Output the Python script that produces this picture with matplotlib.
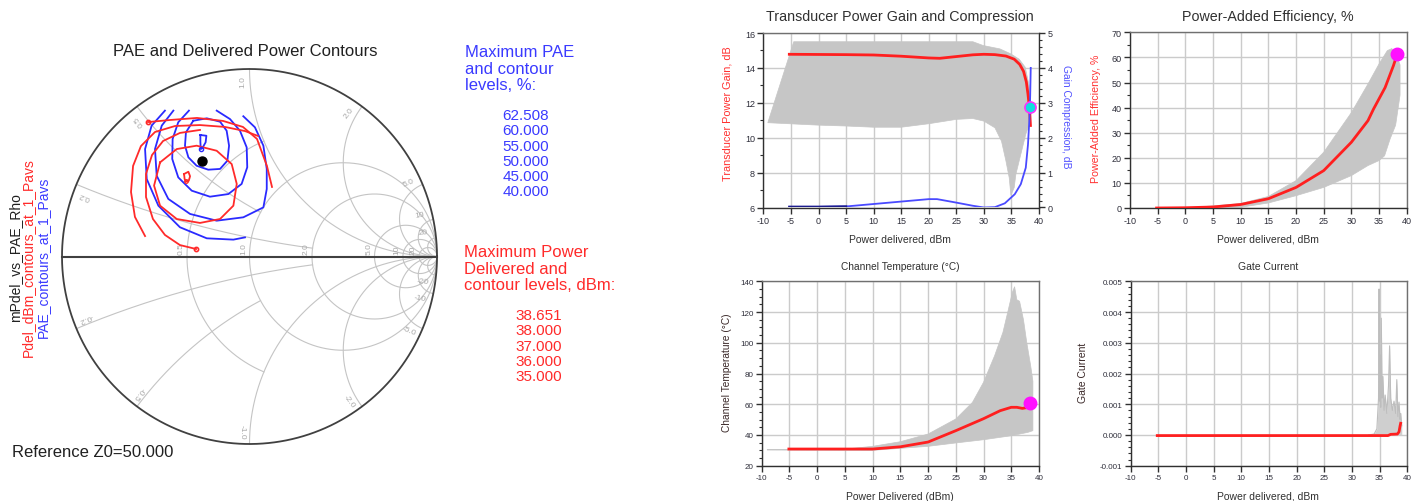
import numpy as np
import matplotlib
matplotlib.use("Agg")
import matplotlib.pyplot as plt
from matplotlib.ticker import MultipleLocator, FormatStrFormatter

plt.rcParams['font.family'] = ['Liberation Sans', 'DejaVu Sans']
plt.rcParams['axes.unicode_minus'] = False

# ---------------- DATA ----------------
# Smith chart contours (reflection coefficient, re/im)
pae_levels = [62.508, 60.0, 55.0, 50.0, 45.0, 40.0]
pdel_levels = [38.651, 38.0, 37.0, 36.0, 35.0]

pae_c60 = [(-0.262, 0.648), (-0.230, 0.644), (-0.234, 0.609), (-0.252, 0.577),
           (-0.260, 0.573), (-0.262, 0.612), (-0.262, 0.648)]
pae_c55 = [(-0.300, 0.724), (-0.228, 0.737), (-0.157, 0.719), (-0.122, 0.671),
           (-0.109, 0.591), (-0.118, 0.511), (-0.157, 0.467), (-0.220, 0.463),
           (-0.282, 0.484), (-0.326, 0.529), (-0.344, 0.591), (-0.339, 0.662),
           (-0.300, 0.724)]
pae_c50 = [(-0.323, 0.778), (-0.380, 0.716), (-0.410, 0.627), (-0.412, 0.520),
           (-0.380, 0.422), (-0.308, 0.351), (-0.211, 0.319), (-0.113, 0.333),
           (-0.042, 0.387), (-0.012, 0.476), (-0.015, 0.582), (-0.051, 0.671),
           (-0.104, 0.733), (-0.175, 0.778)]
pae_c45 = [(-0.406, 0.778), (-0.468, 0.698), (-0.504, 0.573), (-0.495, 0.431),
           (-0.433, 0.307), (-0.317, 0.227), (-0.175, 0.191), (-0.033, 0.209),
           (0.074, 0.262), (0.092, 0.360), (0.092, 0.467), (0.074, 0.591),
           (0.029, 0.689), (-0.033, 0.748)]
pae_c40 = [(-0.451, 0.778), (-0.522, 0.698), (-0.557, 0.573), (-0.548, 0.413),
           (-0.486, 0.271), (-0.371, 0.156), (-0.228, 0.097), (-0.086, 0.090),
           (-0.024, 0.102)]

pdel_c38651 = [(-0.349, 0.440), (-0.326, 0.452), (-0.317, 0.428), (-0.324, 0.404),
               (-0.339, 0.401), (-0.346, 0.413), (-0.349, 0.440)]
pdel_c38 = [(-0.477, 0.502), (-0.388, 0.573), (-0.282, 0.591), (-0.175, 0.564),
            (-0.095, 0.493), (-0.068, 0.387), (-0.086, 0.271), (-0.157, 0.200),
            (-0.264, 0.179), (-0.388, 0.200), (-0.477, 0.271), (-0.509, 0.378),
            (-0.477, 0.502)]
pdel_c37 = [(-0.285, 0.040), (-0.371, 0.061), (-0.451, 0.115), (-0.515, 0.200),
            (-0.552, 0.317), (-0.552, 0.440), (-0.520, 0.541), (-0.461, 0.616),
            (-0.371, 0.659), (-0.264, 0.675)]
pdel_c36 = [(-0.557, 0.109), (-0.611, 0.211), (-0.632, 0.344), (-0.621, 0.483),
            (-0.579, 0.589), (-0.504, 0.664), (-0.397, 0.696), (-0.264, 0.701),
            (-0.131, 0.691), (-0.024, 0.669), (0.045, 0.643)]
pdel_c35 = [(-0.541, 0.717), (-0.424, 0.728), (-0.280, 0.739), (-0.141, 0.723),
            (-0.035, 0.691), (0.040, 0.627), (0.093, 0.483), (0.120, 0.371)]

rho_point = (-0.253, 0.509)
pae_max_point = (-0.260, 0.573)
pdel_max_point = (-0.339, 0.401)
pdel_end_markers = [(-0.541, 0.717), (-0.285, 0.040)]

# Smith grid values
r_grid_vals = [0.5, 1, 2, 5, 10, 20]
x_grid_vals = [0.2, 0.5, 1, 2, 5, 10, 20]
r_labels = ["0.5", "1.0", "2.0", "5.0", "10", "20"]
x_labels = ["0.2", "0.5", "1.0", "2.0", "5.0", "10", "20"]

# Gain / compression panel
gain_x = [-5.3, 0, 5, 10, 15, 20, 22, 25, 28, 30, 32, 34, 35.5, 36.5, 37.2, 37.7, 38.0, 38.2, 38.35, 38.45]
gain_y = [14.78, 14.77, 14.76, 14.74, 14.67, 14.57, 14.55, 14.65, 14.75, 14.78, 14.76, 14.68,
          14.5, 14.2, 13.8, 13.2, 12.5, 11.9, 11.3, 10.7]
comp_x = [-5.3, 0, 5, 10, 15, 20, 21.5, 25, 28, 30, 32, 33.8, 35.6, 36.7, 37.6, 38.0, 38.25, 38.4, 38.5]
comp_y = [0.02, 0.02, 0.03, 0.10, 0.17, 0.24, 0.24, 0.14, 0.05, 0.0, 0.01, 0.12, 0.38, 0.67,
          1.14, 1.8, 2.5, 3.2, 4.0]
gain_env_up_x = [-9.2, -4.5, 28, 29.9, 32.9, 34.9, 36.4, 37.5, 38.2, 38.6]
gain_env_up_y = [10.86, 15.5, 15.5, 15.28, 15.09, 14.8, 14.5, 14.04, 13.0, 11.6]
gain_env_lo_x = [-9.2, -5.3, 0, 5, 10, 15, 20, 25, 28, 30, 32, 33.2, 34, 34.6, 34.9,
                 35.5, 35.8, 36.7, 37.6, 38.2, 38.6]
gain_env_lo_y = [10.86, 10.8, 10.72, 10.67, 10.6, 10.6, 10.8, 11.05, 11.1, 10.95, 10.57,
                 9.8, 8.67, 7.7, 6.7, 7.14, 7.9, 9.05, 10.2, 10.76, 11.5]
gain_marker = (38.3, 11.75)

# PAE panel
pae_x = [-5.2, 0, 5, 10, 15, 20, 25, 30, 33, 34, 35, 36.1, 37.6, 38.3]
pae_y = [0.0, 0.1, 0.4, 1.4, 3.7, 8.2, 14.9, 26.2, 34.8, 39.4, 43.5, 48.0, 56.7, 61.4]
pae_env_up_x = [3, 10, 15, 20, 25, 30, 33, 35, 36.5, 37.3, 38, 38.8]
pae_env_up_y = [0.5, 1.8, 4.6, 10.9, 22.2, 38.0, 49.4, 57.4, 62.7, 63.5, 62.0, 57.0]
pae_env_lo_x = [3, 10, 15, 20, 25, 30, 33, 35, 36, 37, 38, 38.8]
pae_env_lo_y = [0.0, 0.3, 2.0, 4.9, 8.2, 12.9, 16.9, 18.9, 20.8, 27.5, 33.0, 45.0]
pae_marker = (38.3, 61.4)

# Channel temperature panel
temp_x = [-5.1, 0, 5, 10, 15, 20, 25, 30, 33, 35, 36, 37, 37.8, 38.2]
temp_y = [30.85, 30.85, 30.85, 30.85, 32.3, 35.4, 42.8, 50.6, 55.8, 58.0, 58.0, 57.3, 57.8, 58.5]
temp_env_up_x = [-9, 5, 10, 15, 20, 25, 28, 30, 32, 33.5, 34.5, 35.2, 35.6, 36.0, 36.5,
                 37.2, 37.8, 38.5, 38.9]
temp_env_up_y = [30.6, 30.8, 32.6, 35.6, 40.6, 50.4, 61.2, 74.3, 91.6, 106.8, 122.0, 132.8,
                 136.5, 128.0, 127.0, 115.0, 100.0, 85.0, 75.0]
temp_env_lo_x = [-9, 10, 15, 20, 25, 30, 35, 38, 38.9]
temp_env_lo_y = [30.2, 30.0, 31.3, 32.6, 34.8, 36.9, 39.5, 41.7, 42.8]
temp_marker = (38.4, 60.6)

# Gate current panel
gate_x = [-5.2, 36.5, 37.0, 38.2, 38.5, 38.7, 38.8]
gate_y = [-0.00002, -0.00002, 0.00002, 0.00003, 0.0001, 0.0003, 0.00038]
gate_spk_x = [33.0, 34.0, 34.5, 34.8, 34.9, 35.0, 35.1, 35.2, 35.3, 35.45, 35.6, 35.8, 36.0,
              36.3, 36.6, 36.8, 37.0, 37.3, 37.6, 37.9, 38.1, 38.3, 38.5, 38.7, 38.8, 39.0]
gate_spk_y = [0.0, 0.00003, 0.0002, 0.0012, 0.00475, 0.0011, 0.0026, 0.0009, 0.0038, 0.0012,
              0.0019, 0.0008, 0.0013, 0.0007, 0.0016, 0.0029, 0.0012, 0.0008, 0.0011, 0.0007,
              0.0018, 0.0006, 0.00107, 0.0005, 0.0007, 0.0003]

# ---------------- FIGURE ----------------
W, H = 1422, 502
fig = plt.figure(figsize=(W / 100, H / 100), dpi=100)

def ax_px(x0, y0, x1, y1):
    return fig.add_axes([x0 / W, 1 - y1 / H, (x1 - x0) / W, (y1 - y0) / H])

def ftext(x, y, s, **kw):
    return fig.text(x / W, 1 - y / H, s, **kw)

RED = '#ff1f1f'
BLUE = '#3c3cff'
GRAYFILL = '#c6c6c6'
DARK = '#2e2e3a'

# ---------------- SMITH CHART ----------------
cx, cy, R, k = 249.5, 257.5, 187.5, 1.03
axs = ax_px(cx - R * k, cy - R * k, cx + R * k, cy + R * k)
axs.set_xlim(-k, k)
axs.set_ylim(-k, k)
axs.axis('off')

def z2g(r, x):
    z = np.asarray(r) + 1j * np.asarray(x)
    g = (z - 1) / (z + 1)
    return g.real, g.imag

gridc = '#c4c4c4'
tt = np.linspace(-np.pi / 2 + 1e-4, np.pi / 2 - 1e-4, 1500)
r_clip = {0.5: 1.0}
for r in r_grid_vals:
    xs = np.linspace(-r_clip[r], r_clip[r], 400) if r in r_clip else np.tan(tt)
    gx, gy = z2g(r * np.ones_like(xs), xs)
    axs.plot(gx, gy, color=gridc, lw=0.8, zorder=1)
x_clip = {0.2: 2.0, 0.5: 1.0}
tr = np.linspace(0, np.pi / 2 - 1e-4, 1500)
for xv in x_grid_vals:
    rs = np.linspace(0, x_clip[xv], 400) if xv in x_clip else np.tan(tr)
    for s in (1, -1):
        gx, gy = z2g(rs, s * xv * np.ones_like(rs))
        axs.plot(gx, gy, color=gridc, lw=0.8, zorder=1)
# outer circle and real axis
th = np.linspace(0, 2 * np.pi, 600)
axs.plot(np.cos(th), np.sin(th), color='#404040', lw=1.3, zorder=3)
axs.plot([-1, 1], [0, 0], color='#404040', lw=1.5, zorder=3)

labc = '#a8a8a8'
for r, lab in zip(r_grid_vals, r_labels):
    gl = (r - 1) / (r + 1)
    axs.text(gl - 0.012, 0.015, lab, rotation=90, ha='right', va='bottom',
             fontsize=6, color=labc, zorder=2)
for xv, lab in zip(x_grid_vals, x_labels):
    for s in (1, -1):
        gx, gy = z2g(0.0, s * xv)
        ang = np.arctan2(gy, gx)
        a2 = ang + s * 0.04
        rr = 0.935
        txt = lab if s > 0 else '-' + lab
        axs.text(rr * np.cos(a2), rr * np.sin(a2), txt, rotation=np.degrees(ang),
                 rotation_mode='anchor', ha='center', va='center', fontsize=6,
                 color=labc, zorder=2)

def plot_c(pts, color):
    a = np.array(pts)
    axs.plot(a[:, 0], a[:, 1], color=color, lw=1.3, zorder=4)

for c in (pae_c60, pae_c55, pae_c50, pae_c45, pae_c40):
    plot_c(c, '#2a2aff')
for c in (pdel_c38651, pdel_c38, pdel_c37, pdel_c36, pdel_c35):
    plot_c(c, '#ff2a2a')
for p in pdel_end_markers:
    axs.plot(p[0], p[1], 'o', ms=3, mfc='none', mec='#ff2a2a', mew=1.2, zorder=5)
axs.plot(*pae_max_point, 'o', ms=3, mfc='none', mec='#2a2aff', mew=1.0, zorder=5)
axs.plot(*pdel_max_point, 'o', ms=2.5, mfc='none', mec='#ff2a2a', mew=1.0, zorder=5)
axs.plot(*rho_point, 'o', ms=6.5, color='black', zorder=6)

ftext(245, 52, 'PAE and Delivered Power Contours', ha='center', va='center',
      fontsize=12, color='#202020')
ftext(12, 453, 'Reference Z0=50.000', ha='left', va='center', fontsize=12, color='#202020')
ftext(15, 258, 'mPdel_vs_PAE_Rho', rotation=90, ha='center', va='center',
      fontsize=10, color='#202020')
ftext(27.5, 257.5, 'Pdel_dBm_contours_at_1_Pavs', rotation=90, ha='center', va='center',
      fontsize=10, color='#ff2a2a')
ftext(42.5, 257.5, 'PAE_contours_at_1_Pavs', rotation=90, ha='center', va='center',
      fontsize=10, color='#3a3aff')

for i, line in enumerate(['Maximum PAE', 'and contour', 'levels, %:']):
    ftext(465, 52.7 + 16.3 * i, line, ha='left', va='center', fontsize=12, color='#3a3aff')
for i, v in enumerate(pae_levels):
    ftext(502.5, 116 + 15.3 * i, '%.3f' % v, ha='left', va='center', fontsize=11,
          color='#3a3aff')
for i, line in enumerate(['Maximum Power', 'Delivered and', 'contour levels, dBm:']):
    ftext(464, 252.7 + 16.6 * i, line, ha='left', va='center', fontsize=12, color='#ff2a2a')
for i, v in enumerate(pdel_levels):
    ftext(515, 316 + 15.3 * i, '%.3f' % v, ha='left', va='center', fontsize=11,
          color='#ff2a2a')

# ---------------- RIGHT PANELS ----------------
def style(ax, ymaj, ymin, fs, yfmt=None):
    ax.set_xlim(-10, 40)
    ax.xaxis.set_major_locator(MultipleLocator(5))
    ax.yaxis.set_major_locator(MultipleLocator(ymaj))
    ax.yaxis.set_minor_locator(MultipleLocator(ymin))
    if yfmt:
        ax.yaxis.set_major_formatter(FormatStrFormatter(yfmt))
    ax.grid(True, which='major', color='#cbcbcb', lw=1.0)
    ax.set_axisbelow(True)
    ax.tick_params(axis='both', which='major', direction='out', length=4, width=1,
                   color='#303030', labelsize=fs, labelcolor=DARK, pad=2)
    ax.tick_params(axis='y', which='minor', direction='out', length=2.5, width=0.8,
                   color='#303030')
    for sp in ('left', 'bottom'):
        ax.spines[sp].set_color('#303030')
        ax.spines[sp].set_linewidth(1.0)
    for sp in ('top', 'right'):
        ax.spines[sp].set_color('#707070')
        ax.spines[sp].set_linewidth(1.0)

def env_poly(ux, uy, lx, ly):
    px = list(ux) + list(lx)[::-1]
    py = list(uy) + list(ly)[::-1]
    return px, py

# Top middle: gain and compression
ax1 = ax_px(763.4, 34, 1039, 208.5)
style(ax1, 2, 1, 6.5)
ax1.set_ylim(6, 16)
px, py = env_poly(gain_env_up_x, gain_env_up_y, gain_env_lo_x, gain_env_lo_y)
ax1.fill(px, py, color=GRAYFILL, lw=0.5, ec=GRAYFILL, zorder=2)
ax1.plot(gain_x, gain_y, color=RED, lw=2.0, zorder=4)
ax1b = ax1.twinx()
ax1b.set_ylim(0, 5)
ax1b.set_xlim(-10, 40)
ax1b.yaxis.set_major_locator(MultipleLocator(1))
ax1b.yaxis.set_minor_locator(MultipleLocator(0.2))
ax1b.tick_params(axis='y', which='major', direction='out', length=4, width=1,
                 color='#303030', labelsize=6.5, labelcolor=DARK, pad=2)
ax1b.tick_params(axis='y', which='minor', direction='out', length=2.5, width=0.8,
                 color='#303030')
ax1b.spines['right'].set_color('#303030')
for sp in ('left', 'top', 'bottom'):
    ax1b.spines[sp].set_visible(False)
cx_arr = np.array(comp_x)
cy_arr = np.array(comp_y)
ax1b.plot(cx_arr, cy_arr, color='#4a4aff', lw=1.3, zorder=4)
m = cx_arr <= 5
ax1b.plot(cx_arr[m], cy_arr[m], color='#1c1c8a', lw=1.6, zorder=5)
ax1b.plot(*gain_marker, 'o', ms=8, mfc='#10dede', mec='#ff30ff', mew=1.2, zorder=6,
          transform=ax1.transData)

ftext(900, 17, 'Transducer Power Gain and Compression', ha='center', va='center',
      fontsize=10.3, color='#303030')
ftext(900, 239, 'Power delivered, dBm', ha='center', va='center', fontsize=7.5, color='#303030')
ftext(728, 114, 'Transducer Power Gain, dB', rotation=90, ha='center', va='center',
      fontsize=7.8, color='#ff3030')
ftext(1066, 117, 'Gain Compression, dB', rotation=270, ha='center', va='center',
      fontsize=7.4, color='#5050ff')

# Top right: PAE
ax2 = ax_px(1130, 33.3, 1406.7, 209)
style(ax2, 10, 5, 6.5)
ax2.set_ylim(0, 70)
px, py = env_poly(pae_env_up_x, pae_env_up_y, pae_env_lo_x, pae_env_lo_y)
ax2.fill(px, py, color=GRAYFILL, lw=0.5, ec=GRAYFILL, zorder=2)
ax2.plot(pae_x, pae_y, color=RED, lw=2.0, zorder=4)
ax2.plot(*pae_marker, 'o', ms=9, color='#ff10ff', zorder=5)
ftext(1268, 17, 'Power-Added Efficiency, %', ha='center', va='center',
      fontsize=10.3, color='#303030')
ftext(1268, 239, 'Power delivered, dBm', ha='center', va='center', fontsize=7.5, color='#303030')
ftext(1096, 119, 'Power-Added Efficiency, %', rotation=90, ha='center', va='center',
      fontsize=7.7, color='#ff3030')

# Bottom middle: channel temperature
ax3 = ax_px(761.7, 282.3, 1039, 466.7)
style(ax3, 20, 5, 5.8)
ax3.set_ylim(20, 140)
px, py = env_poly(temp_env_up_x, temp_env_up_y, temp_env_lo_x, temp_env_lo_y)
ax3.fill(px, py, color=GRAYFILL, lw=0.5, ec=GRAYFILL, zorder=2)
ax3.plot(temp_x, temp_y, color=RED, lw=2.0, zorder=4)
ax3.plot(*temp_marker, 'o', ms=9, color='#ff10ff', zorder=5)
ftext(900, 267, 'Channel Temperature (°C)', ha='center', va='center',
      fontsize=7.3, color='#303030')
ftext(900, 497, 'Power Delivered (dBm)', ha='center', va='center', fontsize=7.5, color='#303030')
ftext(727, 373, 'Channel Temperature (°C)', rotation=90, ha='center', va='center',
      fontsize=7.3, color='#3a2828')

# Bottom right: gate current
ax4 = ax_px(1130.7, 282.3, 1407.3, 466.7)
style(ax4, 0.001, 0.0002, 5.8, yfmt='%.3f')
ax4.set_ylim(-0.001, 0.005)
ax4.fill_between(gate_spk_x, 0, gate_spk_y, color='#cfcfcf', lw=0, zorder=2)
ax4.plot(gate_spk_x, gate_spk_y, color='#bdbdbd', lw=0.8, zorder=3)
ax4.plot(gate_x, gate_y, color=RED, lw=2.0, zorder=4)
ftext(1268, 267, 'Gate Current', ha='center', va='center', fontsize=7.5, color='#303030')
ftext(1268, 497, 'Power delivered, dBm', ha='center', va='center', fontsize=7.5, color='#303030')
ftext(1083, 373, 'Gate Current', rotation=90, ha='center', va='center',
      fontsize=7.5, color='#3a2828')

fig.savefig('out.png', dpi=100)
